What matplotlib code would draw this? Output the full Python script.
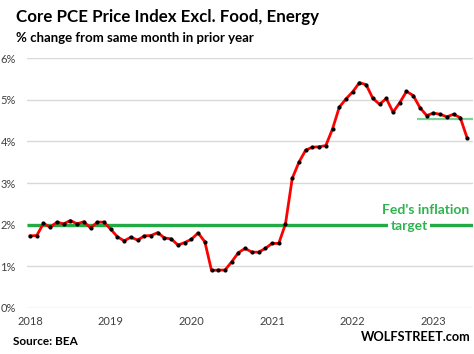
import matplotlib
matplotlib.use("Agg")
import matplotlib.pyplot as plt

plt.rcParams['font.family'] = ['Lato', 'DejaVu Sans']

years = ['2018', '2019', '2020', '2021', '2022', '2023']
yticks = [0, 1, 2, 3, 4, 5, 6]
core_pce = [1.73, 1.74, 2.03, 1.94, 2.06, 2.02, 2.10, 2.02, 2.07, 1.92, 2.06, 2.06,
            1.89, 1.71, 1.61, 1.70, 1.63, 1.73, 1.74, 1.81, 1.68, 1.66, 1.51, 1.57,
            1.65, 1.80, 1.59, 0.90, 0.91, 0.91, 1.11, 1.33, 1.43, 1.34, 1.34, 1.43,
            1.55, 1.55, 2.02, 3.11, 3.50, 3.79, 3.86, 3.87, 3.90, 4.30, 4.82, 5.02,
            5.19, 5.41, 5.36, 5.03, 4.89, 5.03, 4.70, 4.93, 5.20, 5.10, 4.81, 4.62,
            4.68, 4.65, 4.59, 4.65, 4.57, 4.09]
fed_target = 2.0
recent_level = 4.54
recent_start = 57.5

months = list(range(len(core_pce)))

fig = plt.figure(figsize=(4.74, 3.54), dpi=100)
ax = fig.add_axes([0.057, 0.130, 0.941, 0.706])

x_lo, x_hi = -0.45, 65.9
ax.set_xlim(x_lo, x_hi)
ax.set_ylim(0, 6)

for v in yticks:
    ax.axhline(v, color='#d9d9d9', lw=1.0, zorder=0)

ax.plot([x_lo, x_hi], [fed_target, fed_target], color='#22aa44', lw=2.4, zorder=2, solid_capstyle='butt')
ax.plot([recent_start, x_hi], [recent_level, recent_level], color='#7dd197', lw=1.6, zorder=2, solid_capstyle='butt')

ax.plot(months, core_pce, color='#ff0000', lw=2.0, zorder=3,
        marker='o', markersize=2.0, markerfacecolor='black', markeredgecolor='black')

ax.text(58.9, 2.36, "Fed's inflation", color='#2eb34f', fontsize=10, fontweight='bold',
        ha='center', va='center', zorder=4)
ax.text(56.4, 1.97, "target", color='#2eb34f', fontsize=10, fontweight='bold',
        ha='center', va='center', zorder=4,
        bbox=dict(facecolor='white', edgecolor='none', pad=1.5))

ax.set_yticks(yticks)
ax.set_yticklabels([f'{v}%' for v in yticks])
ax.set_xticks([12 * i for i in range(len(years))])
ax.set_xticklabels(years)
ax.tick_params(axis='both', length=0, labelsize=8, labelcolor='#404040')
ax.tick_params(axis='y', pad=8)
ax.tick_params(axis='x', pad=6)
for s in ax.spines.values():
    s.set_visible(False)

fig.text(0.034, 0.975, 'Core PCE Price Index Excl. Food, Energy', fontsize=12.2,
         fontweight='bold', ha='left', va='top', color='black')
fig.text(0.034, 0.910, '% change from same month in prior year', fontsize=9.5,
         fontweight='bold', ha='left', va='top', color='black')
fig.text(0.028, 0.035, 'Source: BEA', fontsize=8.5, fontweight='bold', ha='left', va='center')
fig.text(0.992, 0.048, 'WOLFSTREET.com', fontsize=9.2, fontweight='bold', ha='right', va='center')

fig.savefig('out.png', dpi=100)
